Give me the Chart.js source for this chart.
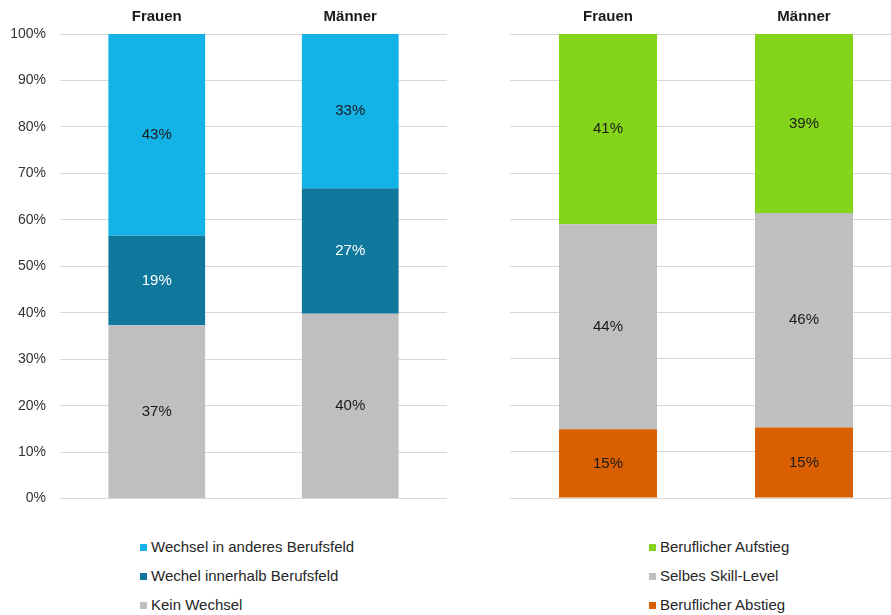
<!DOCTYPE html>
<html>
<head>
<meta charset="utf-8">
<script src="https://cdn.jsdelivr.net/npm/chart.js@4/dist/chart.umd.min.js"></script>
<style>
  html, body { margin: 0; padding: 0; background: #fff; }
  body { width: 891px; height: 615px; overflow: hidden; position: relative; font-family: "Liberation Sans", Arial, sans-serif; }
  .wrap { position: absolute; top: 0; }
  .legend { position: absolute; font-size: 15px; color: #262626; }
  .legend div { height: 29px; line-height: 29px; white-space: nowrap; }
  .legend span { display: inline-block; width: 7px; height: 7px; margin-right: 4px; vertical-align: 1px; }
</style>
</head>
<body>
<div class="wrap" style="left:0;width:447px;height:521px"><canvas id="leftChart"></canvas></div>
<div class="wrap" style="left:450px;width:452px;height:510px"><canvas id="rightChart"></canvas></div>
<div class="legend" id="leftLegend" style="left:140px;top:532px"></div>
<div class="legend" id="rightLegend" style="left:649px;top:532px"></div>
<script>
const categories = ["Frauen", "Männer"];
const yTicks = [0, 10, 20, 30, 40, 50, 60, 70, 80, 90, 100];

// left panel: Berufsfeld-Wechsel
const keinWechsel = [37.3, 39.8];
const wechselInnerhalb = [19.3, 27.0];
const wechselAnderes = [43.4, 33.2];

// right panel: Skill-Level
const abstieg = [14.8, 15.2];
const selbesLevel = [44.2, 46.2];
const aufstieg = [41.0, 38.6];

const leftSeries = [
  { label: "Kein Wechsel", data: keinWechsel, color: "#bfbfbf", text: "#1a1a1a" },
  { label: "Wechel innerhalb Berufsfeld", data: wechselInnerhalb, color: "#10789d", text: "#ffffff" },
  { label: "Wechsel in anderes Berufsfeld", data: wechselAnderes, color: "#13b3e8", text: "#1a1a1a" },
];
const rightSeries = [
  { label: "Beruflicher Abstieg", data: abstieg, color: "#d95f00", text: "#1a1a1a" },
  { label: "Selbes Skill-Level", data: selbesLevel, color: "#bfbfbf", text: "#1a1a1a" },
  { label: "Beruflicher Aufstieg", data: aufstieg, color: "#84d41a", text: "#1a1a1a" },
];

const font = "'Liberation Sans', Arial, sans-serif";

// draws the percentage inside every segment
const segmentLabels = {
  id: "segmentLabels",
  afterDatasetsDraw(chart) {
    const c = chart.ctx;
    c.save();
    c.font = "15px " + font;
    c.textAlign = "center";
    c.textBaseline = "middle";
    chart.data.datasets.forEach((ds, i) => {
      chart.getDatasetMeta(i).data.forEach((bar, j) => {
        const p = bar.getProps(["x", "y", "base"], true);
        c.fillStyle = ds.labelColor;
        c.fillText(Math.round(ds.data[j]) + "%", p.x, (p.y + p.base) / 2);
      });
    });
    c.restore();
  }
};

function makeChart(id, series, showTicks, padBottom) {
  return new Chart(document.getElementById(id), {
    type: "bar",
    data: {
      labels: categories,
      datasets: series.map(s => ({
        label: s.label,
        data: s.data,
        backgroundColor: s.color,
        labelColor: s.text,
        borderWidth: 0,
        barPercentage: 1,
        categoryPercentage: 0.5,
      })),
    },
    options: {
      responsive: true,
      maintainAspectRatio: false,
      animation: false,
      layout: { padding: { top: 0, bottom: padBottom, left: 0, right: 0 } },
      plugins: { legend: { display: false }, tooltip: { enabled: false } },
      scales: {
        x: {
          position: "top",
          stacked: true,
          grid: { display: false, drawTicks: false },
          border: { display: false },
          ticks: { color: "#1a1a1a", font: { family: font, size: 15, weight: "bold" }, padding: 8 },
          afterFit(scale) { scale.height = 34; },
        },
        y: {
          stacked: true,
          min: 0,
          max: 100,
          afterBuildTicks(scale) { scale.ticks = yTicks.map(v => ({ value: v })); },
          grid: { color: "#d9d9d9", lineWidth: 1, drawTicks: false },
          border: { display: false },
          ticks: {
            display: showTicks,
            color: "#333333",
            font: { family: font, size: 14 },
            padding: 14,
            callback: v => v + "%",
          },
          afterFit(scale) { scale.width = 60; },
        },
      },
    },
    plugins: [segmentLabels],
  });
}

makeChart("leftChart", leftSeries, true, 1);
makeChart("rightChart", rightSeries, false, 12);

function buildLegend(id, series) {
  const el = document.getElementById(id);
  series.slice().reverse().forEach(s => {
    const row = document.createElement("div");
    row.innerHTML = '<span style="background:' + s.color + '"></span>' + s.label;
    el.appendChild(row);
  });
}
buildLegend("leftLegend", leftSeries);
buildLegend("rightLegend", rightSeries);
</script>
</body>
</html>
